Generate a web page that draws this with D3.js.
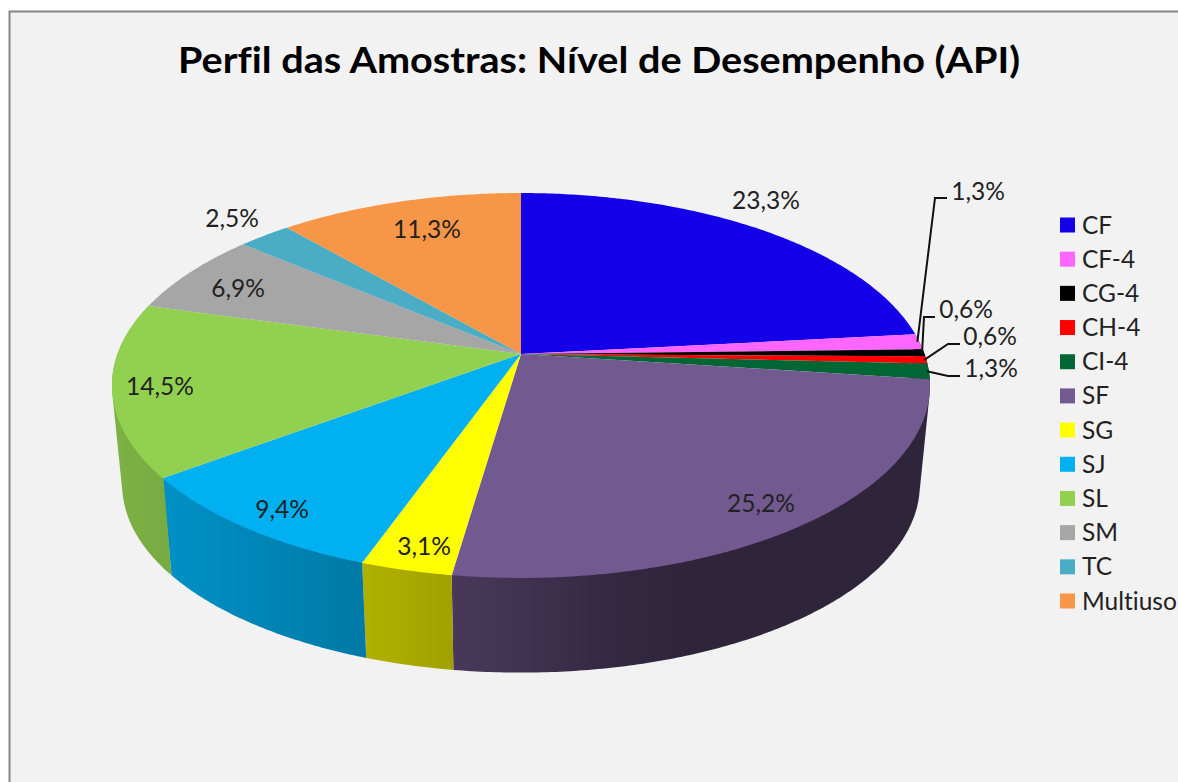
<!DOCTYPE html>
<html>
<head>
<meta charset="utf-8">
<script src="https://cdn.jsdelivr.net/npm/d3@7"></script>
<style>
  body { margin: 0; background: #fff; }
  text { font-family: Lato, "Open Sans", sans-serif; fill: #222; font-variant-ligatures: none; }
</style>
</head>
<body>
<svg id="chart" width="1178" height="782"></svg>
<script>
const categories = ['CF', 'CF-4', 'CG-4', 'CH-4', 'CI-4', 'SF', 'SG', 'SJ', 'SL', 'SM', 'TC', 'Multiuso']
const values = [23.3, 1.3, 0.6, 0.6, 1.3, 25.2, 3.1, 9.4, 14.5, 6.9, 2.5, 11.3]
const colors = ['#1400e8', '#ff66ff', '#000000', '#ff0000', '#006633', '#725a91', '#ffff00', '#00b0f0', '#92d050', '#a6a6a6', '#4bacc6', '#f79646']

// manual label placement, excel had them dragged around
const labelX = [766, 978, 966, 990, 991, 761, 424, 282, 160, 238, 232, 427]
const labelY = [200, 191, 309, 336, 368, 503, 546, 509, 386, 288, 218, 229]
// elbows of the leader lines, only for the small slices
const leaders = {
    'CF-4': [[935, 198], [947, 198]],
    'CG-4': [[924, 317], [935, 317]],
    'CH-4': [[948, 344], [960, 344]],
    'CI-4': [[948, 376], [960, 376]]
}

const width = 1178
const height = 782
const cx = 521
const cy = 354

// perspective of the disc: front of the ellipse is bigger than the back
const persp = 0.1636
const scaleU = 403.5
const scaleV = 187.3
const bottomScale = 0.975
const topMidY = 385.5
const bottomMidY = 485

const project = (angle, r = 1) => {
    const u = Math.sin(angle) * r
    const v = -Math.cos(angle) * r
    const d = 1 - persp * v
    return [cx + scaleU * u / d, cy + scaleV * v / d]
}
const projectBottom = (angle) => {
    const [x, y] = project(angle)
    return [cx + (x - cx) * bottomScale, bottomMidY + (y - topMidY) * bottomScale]
}

const arcAngles = (d) => {
    const n = Math.max(2, Math.ceil((d.endAngle - d.startAngle) / 0.01))
    return d3.range(n + 1).map((i) => d.startAngle + (d.endAngle - d.startAngle) * i / n)
}

const svg = d3.select('#chart')
const line = d3.line()
const color = d3.scaleOrdinal().domain(categories).range(colors)
const slices = d3.pie().sort(null).value((d) => d.value)(categories.map((name, i) => ({ name, value: values[i] })))

svg.append('rect')
    .attr('x', 9.5).attr('y', 11.5)
    .attr('width', width + 20).attr('height', height + 20)
    .attr('fill', '#f2f2f2')
    .attr('stroke', '#868686')
    .attr('stroke-width', 2)

svg.append('text')
    .attr('x', 178).attr('y', 73)
    .attr('textLength', 842)
    .attr('lengthAdjust', 'spacingAndGlyphs')
    .attr('font-size', 36)
    .attr('font-weight', 700)
    .style('fill', '#000')
    .text('Perfil das Amostras: Nível de Desempenho (API)')

// side shading gets darker going right, flat after the middle of SF
const shade = d3.scaleLinear().domain([120, 170, 365, 455, 650, 940]).range([0.85, 0.82, 0.69, 0.63, 0.41, 0.41]).clamp(true)
const defs = svg.append('defs')
const darken = (c, f) => {
    const rgb = d3.rgb(c)
    return d3.rgb(rgb.r * f, rgb.g * f, rgb.b * f).formatHex()
}

const sideSlices = slices.filter((d) => Math.cos((d.startAngle + d.endAngle) / 2) < 0.3)

sideSlices.forEach((d, i) => {
    const xs = arcAngles(d).map((a) => project(a)[0])
    const x0 = d3.min(xs)
    const x1 = d3.max(xs)
    const grad = defs.append('linearGradient')
        .attr('id', 'side' + i)
        .attr('gradientUnits', 'userSpaceOnUse')
        .attr('x1', x0).attr('x2', x1).attr('y1', 0).attr('y2', 0)
    d3.range(9).forEach((k) => {
        grad.append('stop')
            .attr('offset', k / 8)
            .attr('stop-color', darken(color(d.data.name), shade(x0 + (x1 - x0) * k / 8)))
    })
})

// hull of both rims, a plain top+bottom polygon leaves a notch at the widest point
svg.append('g').selectAll('path')
    .data(sideSlices)
    .enter()
    .append('path')
    .attr('d', (d) => {
        const angles = arcAngles(d)
        return line(d3.polygonHull(angles.map((a) => project(a)).concat(angles.map((a) => projectBottom(a))))) + 'Z'
    })
    .attr('fill', (d, i) => `url(#side${i})`)

svg.append('g').selectAll('path')
    .data(slices)
    .enter()
    .append('path')
    .attr('d', (d) => line([[cx, cy]].concat(arcAngles(d).map((a) => project(a)))) + 'Z')
    .attr('fill', (d) => color(d.data.name))

svg.append('g').selectAll('path')
    .data(slices.filter((d) => leaders[d.data.name]))
    .enter()
    .append('path')
    .attr('d', (d) => line([project((d.startAngle + d.endAngle) / 2, 0.995)].concat(leaders[d.data.name])))
    .attr('fill', 'none')
    .attr('stroke', '#111')
    .attr('stroke-width', 2)

svg.append('g').selectAll('text')
    .data(slices)
    .enter()
    .append('text')
    .attr('x', (d, i) => labelX[i])
    .attr('y', (d, i) => labelY[i])
    .attr('dy', '0.35em')
    .attr('text-anchor', 'middle')
    .attr('font-size', 24.5)
    .text((d) => d.data.value.toFixed(1).replace('.', ',') + '%')

const legendY = d3.scalePoint().domain(categories).range([225, 601])
const legend = svg.append('g').selectAll('g')
    .data(categories)
    .enter()
    .append('g')
    .attr('transform', (d) => `translate(1060,${legendY(d)})`)
legend.append('rect')
    .attr('x', 0).attr('y', -7.5)
    .attr('width', 15).attr('height', 15)
    .attr('fill', (d) => color(d))
legend.append('text')
    .attr('x', 22)
    .attr('dy', '0.35em')
    .attr('font-size', 24.5)
    .text((d) => d)
</script>
</body>
</html>
